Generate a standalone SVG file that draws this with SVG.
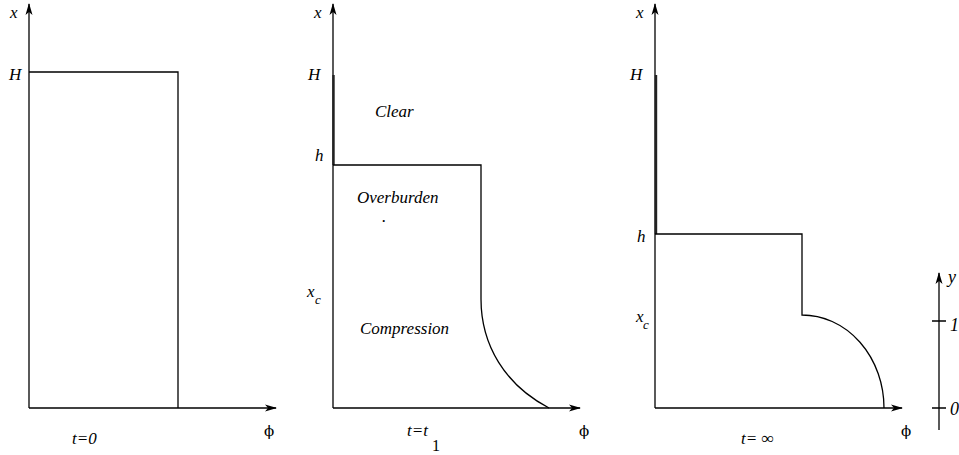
<svg xmlns="http://www.w3.org/2000/svg" width="959" height="455" viewBox="0 0 959 455">
<style>
.ln{fill:none;stroke:#000;stroke-width:1.3}
.th{fill:none;stroke:#222;stroke-width:2.4}
text{font-family:'Liberation Serif','Times New Roman',Times,serif;fill:#000}
.t{font-style:italic;font-size:17px}
.s{font-style:italic;font-size:13px}
.u{font-size:16px}
.p{font-family:'DejaVu Serif',serif;font-size:15px}
</style>
<defs>
<marker id="ar" viewBox="0 0 12 8" refX="11" refY="4" markerWidth="12" markerHeight="8" markerUnits="userSpaceOnUse" orient="auto">
<path d="M0,0.5 L12,4 L0,7.5 L3,4 z" fill="#000"/>
</marker>
</defs>
<g id="connectors">
<path class="ln" d="M29,408 V4" marker-end="url(#ar)"/>
<path class="ln" d="M29,408 H276" marker-end="url(#ar)"/>
<path class="ln" d="M333,408 V4" marker-end="url(#ar)"/>
<path class="ln" d="M333,408 H580" marker-end="url(#ar)"/>
<path class="ln" d="M655,408 V4" marker-end="url(#ar)"/>
<path class="ln" d="M655,408 H902" marker-end="url(#ar)"/>
<path class="ln" d="M939,430 V273" marker-end="url(#ar)"/>
<path class="ln" d="M932,321 H946 M932,408 H946"/>
</g>
<g id="panel1">
<path class="ln" d="M29,72 H178 V408"/>
<text class="t" x="10" y="18">x</text>
<text class="t" x="9" y="80">H</text>
<text class="p" x="264" y="436">ϕ</text>
<text class="t" x="72" y="444">t=0</text>
</g>
<g id="panel2">
<path class="th" d="M333.5,75 V165"/>
<path class="ln" d="M333,165 H481 V299 C481,345 505,385 549,408"/>
<text class="t" x="314" y="18">x</text>
<text class="t" x="308" y="80">H</text>
<text class="t" x="315" y="161">h</text>
<text class="t" x="307" y="297">x</text>
<text class="s" x="315" y="304">c</text>
<text class="t" x="375" y="117">Clear</text>
<text class="t" x="357" y="203">Overburden</text>
<text class="t" x="382" y="222">.</text>
<text class="t" x="360" y="334">Compression</text>
<text class="p" x="579" y="436">ϕ</text>
<text class="t" x="407" y="436">t=t</text>
<text class="u" x="432" y="451">1</text>
</g>
<g id="panel3">
<path class="th" d="M656,75 V234"/>
<path class="ln" d="M655,234 H802 V315 A82,93 0 0 1 884,408"/>
<text class="t" x="636" y="18">x</text>
<text class="t" x="630" y="80">H</text>
<text class="t" x="637" y="242">h</text>
<text class="t" x="636" y="322">x</text>
<text class="s" x="643" y="329">c</text>
<text class="p" x="901" y="436">ϕ</text>
<text class="t" x="741" y="444">t= ∞</text>
</g>
<g id="scale">
<text class="t" x="948" y="283" style="font-size:18px">y</text>
<text class="t" x="950" y="331" style="font-size:18px">1</text>
<text class="t" x="950" y="415" style="font-size:18px">0</text>
</g>
</svg>
